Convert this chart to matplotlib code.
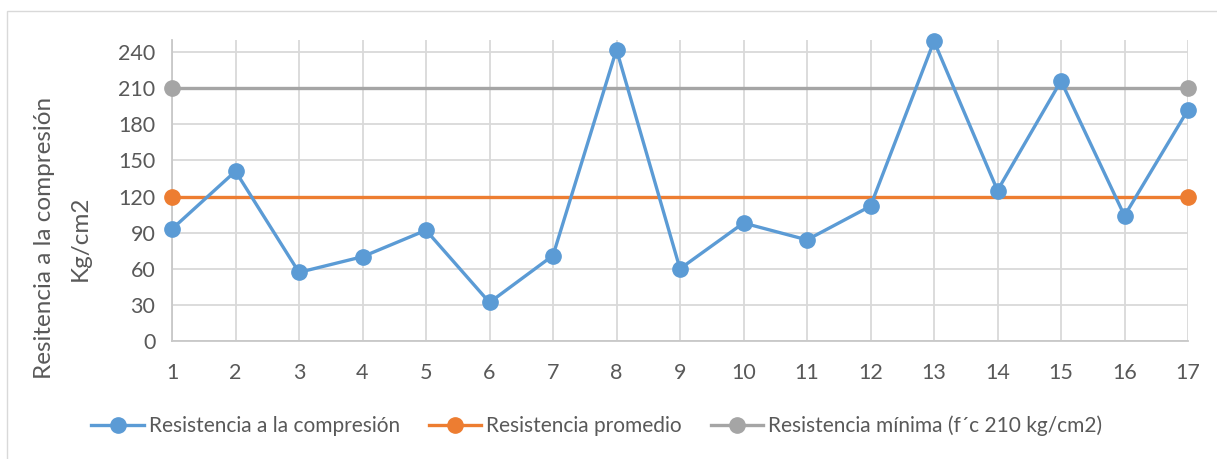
import numpy as np
import matplotlib.pyplot as plt
from matplotlib.patches import Rectangle
from matplotlib.lines import Line2D

# ensayos (numero de probeta)
muestras = list(range(1, 18))
# resistencia medida de cada probeta, kg/cm2
resistencia = [93, 141, 57, 70, 92, 32, 71, 242, 60, 98, 84, 112, 249, 125, 216, 104, 192]
# promedio de las 17 probetas
promedio = [119.9] * 17
# f'c de diseño
minima = [210] * 17

yticks = [0, 30, 60, 90, 120, 150, 180, 210, 240]

AZUL = '#5B9BD5'
NARANJA = '#ED7D31'
GRIS = '#A5A5A5'
TEXTO = '#595959'
REJILLA = '#D9D9D9'
FS = 15.5

plt.rcParams['font.family'] = ['Lato', 'DejaVu Sans']
plt.rcParams['font.size'] = FS

fig = plt.figure(figsize=(12.17, 4.59), dpi=100)
ax = fig.add_axes([172/1217, 1 - 341/459, (1188 - 172)/1217, (341 - 40)/459])

# marco exterior del grafico
fig.patches.append(Rectangle((7/1217, -0.1), 1.2, 1 - 11/459 + 0.1, transform=fig.transFigure,
                             fill=False, edgecolor='#D9D9D9', linewidth=1))

ax.plot(muestras, resistencia, '-o', color=AZUL, lw=2.4, ms=11, zorder=5, clip_on=False)
ax.plot(muestras, promedio, '-', color=NARANJA, lw=2.4, zorder=4)
ax.plot([muestras[0], muestras[-1]], [promedio[0], promedio[-1]], 'o', color=NARANJA, ms=11,
        zorder=4, clip_on=False)
ax.plot(muestras, minima, '-', color=GRIS, lw=2.4, zorder=3)
ax.plot([muestras[0], muestras[-1]], [minima[0], minima[-1]], 'o', color=GRIS, ms=11,
        zorder=3, clip_on=False)

ax.set_xlim(1, 17)
ax.set_ylim(0, 250)
ax.set_xticks(muestras)
ax.set_yticks(yticks)
ax.grid(True, color=REJILLA, lw=1.3)
ax.set_axisbelow(True)
for s in ['top', 'right']:
    ax.spines[s].set_visible(False)
for s in ['left', 'bottom']:
    ax.spines[s].set_color('#C8C8C8')
    ax.spines[s].set_linewidth(1.3)
ax.tick_params(length=0, colors=TEXTO, labelsize=FS)
ax.tick_params(axis='x', pad=16)
ax.tick_params(axis='y', pad=12)

# titulo del eje y en dos lineas
fig.text(45/1217, 1 - 238/459, 'Resitencia a la compresión', rotation=90,
         ha='center', va='center', color=TEXTO, fontsize=17.5)
fig.text(80/1217, 1 - 238/459, 'Kg/cm2', rotation=90,
         ha='center', va='center', color=TEXTO, fontsize=17.5)

# leyenda
h = [Line2D([], [], color=c, lw=2.4, marker='o', ms=11) for c in (AZUL, NARANJA, GRIS)]
leg = fig.legend(h, ['Resistencia a la compresión', 'Resistencia promedio',
                     'Resistencia mínima (f´c 210 kg/cm2)'],
                 loc='center', bbox_to_anchor=(597/1217, 1 - 426/459), ncol=3, frameon=False,
                 handlelength=2.5, handletextpad=0.25, columnspacing=1.4, fontsize=15)
for t in leg.get_texts():
    t.set_color(TEXTO)

fig.savefig('out.png', dpi=100)
